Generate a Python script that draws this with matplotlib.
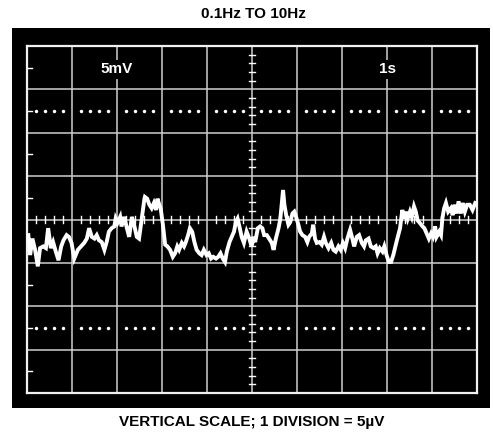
"""Scope capture: 0.1Hz to 10Hz noise, 1s/div, 5uV/div."""
import matplotlib

matplotlib.use("Agg")
import matplotlib.pyplot as plt

plt.rcParams["font.family"] = ["Liberation Sans", "DejaVu Sans"]

TITLE = "0.1Hz TO 10Hz"
FOOTER = "VERTICAL SCALE; 1 DIVISION = 5µV"
CH_LABEL = "5mV"
TB_LABEL = "1s"

# trace: time (s), voltage (uV)
t_s = [0.03, 0.07, 0.12, 0.18, 0.24, 0.29, 0.36, 0.42, 0.47, 0.53, 0.58, 0.64,
       0.70, 0.76, 0.81, 0.88, 0.93, 0.99, 1.05, 1.13, 1.20, 1.27, 1.33, 1.38,
       1.44, 1.50, 1.55, 1.60, 1.66, 1.72, 1.77, 1.82, 1.88, 1.94, 1.97, 2.01,
       2.07, 2.10, 2.16, 2.22, 2.27, 2.33, 2.38, 2.44, 2.49, 2.55, 2.61, 2.62,
       2.67, 2.72, 2.77, 2.82, 2.87, 2.90, 2.94, 2.97, 3.02, 3.07, 3.12, 3.18,
       3.24, 3.29, 3.34, 3.38, 3.44, 3.49, 3.53, 3.58, 3.62, 3.67, 3.72, 3.77,
       3.83, 3.88, 3.93, 3.99, 4.04, 4.09, 4.14, 4.20, 4.25, 4.30, 4.35, 4.40,
       4.44, 4.50, 4.55, 4.60, 4.64, 4.68, 4.72, 4.77, 4.82, 4.88, 4.94, 4.99,
       5.04, 5.07, 5.13, 5.18, 5.23, 5.27, 5.33, 5.38, 5.44, 5.48, 5.53, 5.59,
       5.63, 5.66, 5.69, 5.72, 5.76, 5.81, 5.85, 5.90, 5.94, 5.98, 6.03, 6.07,
       6.12, 6.18, 6.23, 6.27, 6.33, 6.36, 6.40, 6.44, 6.50, 6.55, 6.60, 6.64,
       6.70, 6.76, 6.81, 6.86, 6.92, 6.97, 7.02, 7.07, 7.12, 7.18, 7.23, 7.27,
       7.33, 7.38, 7.44, 7.49, 7.53, 7.59, 7.64, 7.70, 7.75, 7.79, 7.84, 7.90,
       7.94, 7.99, 8.04, 8.09, 8.14, 8.21, 8.29, 8.34, 8.38, 8.42, 8.46, 8.51,
       8.55, 8.60, 8.64, 8.68, 8.73, 8.79, 8.83, 8.88, 8.93, 8.98, 9.02, 9.07,
       9.10, 9.16, 9.20, 9.23, 9.27, 9.31, 9.36, 9.42, 9.46, 9.50, 9.55, 9.59,
       9.64, 9.68, 9.73, 9.78, 9.84, 9.90, 9.96]
v_uv = [-1.8, -4.1, -2.2, -3.5, -5.4, -3.3, -3.1, -3.3, -1.0, -3.3, -2.6, -3.7,
        -4.7, -3.1, -2.4, -1.8, -2.0, -2.7, -4.5, -3.5, -3.1, -2.7, -2.2, -1.0,
        -2.0, -2.2, -1.8, -2.4, -2.6, -3.5, -2.6, -1.4, -1.0, -0.8, 0.1, -0.4,
        0.3, -0.8, 0.3, -1.0, -2.0, 0.3, -0.6, -2.0, -2.2, 0.1, 2.4, 2.6,
        2.4, 1.7, 1.3, 1.9, 1.1, 2.4, 1.7, 1.3, -0.6, -2.9, -3.1, -3.5,
        -4.3, -3.9, -3.1, -3.5, -2.7, -3.1, -2.6, -1.8, -1.0, -1.4, -2.6, -3.5,
        -3.9, -4.1, -3.5, -4.1, -3.9, -4.5, -4.3, -4.5, -4.3, -3.9, -4.5, -4.9,
        -3.7, -2.6, -2.0, -1.4, -0.3, 0.1, -0.8, -2.0, -2.7, -1.4, -2.2, -3.1,
        -2.0, -2.6, -1.0, -0.8, -1.0, -1.8, -1.8, -2.2, -2.7, -3.5, -2.2, -1.0,
        0.1, 1.7, 3.4, 1.7, 0.5, -0.6, -0.3, 0.7, 0.9, 0.3, -0.6, -1.4,
        -1.8, -2.0, -2.6, -2.0, -1.6, -0.6, -2.2, -2.7, -2.6, -2.9, -2.0, -2.7,
        -3.3, -2.7, -3.5, -3.7, -3.1, -3.5, -2.7, -3.3, -2.2, -1.2, -2.2, -3.1,
        -2.0, -1.8, -2.7, -3.1, -2.4, -2.2, -3.1, -3.3, -3.1, -3.9, -3.3, -3.7,
        -3.1, -4.1, -4.9, -4.9, -4.1, -2.6, -1.0, 1.1, 0.1, 0.9, 0.1, 0.9,
        0.3, 1.5, 0.9, -0.1, -0.4, -0.8, -1.0, -1.6, -2.2, -1.6, -2.0, -0.8,
        -2.0, -1.4, -1.8, 0.1, 1.3, 1.9, 0.9, 1.3, 0.5, 1.7, 0.7, 2.1,
        0.7, 1.9, 0.9, 1.7, 1.7, 1.1, 1.9]

N_DIV_X = 10          # 1 s per division
N_DIV_Y = 8           # 5 uV per division
UV_PER_DIV = 5.0

W, H = 493, 434
fig = plt.figure(figsize=(W / 100, H / 100), dpi=100)
fig.patch.set_facecolor("white")

# black bezel around the graticule
bezel = fig.add_axes([12 / W, 1 - 408 / H, 478 / W, 380 / H])
bezel.set_facecolor("black")
bezel.set_xticks([])
bezel.set_yticks([])
for s in bezel.spines.values():
    s.set_visible(False)

ax = fig.add_axes([27 / W, 1 - 393 / H, 450 / W, 347 / H])
ax.set_facecolor("black")
ax.set_xlim(0, N_DIV_X)
ax.set_ylim(-N_DIV_Y / 2 * UV_PER_DIV, N_DIV_Y / 2 * UV_PER_DIV)
ax.set_xticks([])
ax.set_yticks([])
for s in ax.spines.values():
    s.set_color("#f0f0f0")
    s.set_linewidth(1.6)

grid_c = "#cfcfcf"
for i in range(1, N_DIV_X):
    ax.axvline(i, color=grid_c, lw=1.1, zorder=1)
for j in range(1, N_DIV_Y):
    ax.axhline(-20 + j * UV_PER_DIV, color=grid_c, lw=1.1, zorder=1)

# dotted rows at +-2.5 div
dx = [k + f for k in range(N_DIV_X) for f in (0.2, 0.4, 0.6, 0.8)]
for yd in (12.5, -12.5):
    ax.plot(dx, [yd] * len(dx), ls="none", marker="o", ms=2.5,
            color="white", mec="none", zorder=2)

# minor ticks along the centre axes
for k in range(N_DIV_Y * 5 + 1):
    y = -20 + k
    if k % 5:
        ax.plot([4.93, 5.07], [y, y], color="white", lw=1.0, zorder=2)
for k in range(N_DIV_X * 5 + 1):
    x = k * 0.2
    if k % 5:
        ax.plot([x, x], [-0.35, 0.35], color="white", lw=1.0, zorder=2)

# half-division ticks on the left edge
for y in (-17.5, -12.5, -7.5, -2.5, 2.5, 7.5, 12.5, 17.5):
    ax.plot([0, 0.1], [y, y], color="white", lw=1.0, zorder=2)

ax.plot(t_s, v_uv, color="white", lw=2.8, solid_joinstyle="miter", zorder=4)

lbl_y = 17.3
for x, s in ((2, CH_LABEL), (8, TB_LABEL)):
    ax.text(x, lbl_y, s, color="white", fontsize=11, fontweight="bold",
            ha="center", va="center", zorder=5,
            bbox=dict(facecolor="black", edgecolor="none", pad=1.5))

fig.text(253 / W, 1 - 14 / H, TITLE, ha="center", va="center",
         fontsize=11, fontweight="bold")
fig.text(252 / W, 1 - 422 / H, FOOTER, ha="center", va="center",
         fontsize=11, fontweight="bold")

fig.savefig("out.png", dpi=100)
